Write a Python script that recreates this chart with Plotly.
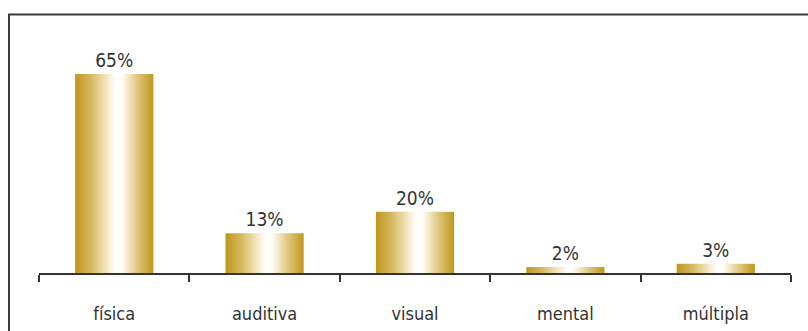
import plotly.graph_objects as go

categories = ["física", "auditiva", "visual", "mental", "múltipla"]
values = [65, 13, 20, 2, 3]
value_labels = ["65%", "13%", "20%", "2%", "3%"]

GOLD = "#BE971B"
FONT = "DejaVu Sans Condensed, sans-serif"
BAR_W = 0.52

fig = go.Figure()

# Base bar trace (invisible) for the categorical axis and value labels
fig.add_trace(go.Bar(
    x=categories, y=values, width=BAR_W,
    marker=dict(color="rgba(0,0,0,0)", line=dict(width=0)),
    text=value_labels, textposition="outside", cliponaxis=False,
    textfont=dict(family=FONT, size=19, color="#333333"),
    hoverinfo="skip", showlegend=False,
))

# Gradient-filled bars drawn on an overlaid linear axis
scale = [[0, GOLD], [0.22, "#D8BC66"], [0.42, "#F6EBCB"], [0.52, "#FFFFFF"],
         [0.6, "#FFFDF6"], [0.78, "#E2CB88"], [1, GOLD]]
for i, v in enumerate(values):
    x0, x1 = i - BAR_W / 2, i + BAR_W / 2
    fig.add_trace(go.Scatter(
        x=[x0, x1, x1, x0, x0], y=[0, 0, v, v, 0],
        xaxis="x2", yaxis="y", mode="lines", line=dict(width=0),
        fill="toself",
        fillgradient=dict(type="horizontal", colorscale=scale),
        hoverinfo="skip", showlegend=False,
    ))

fig.update_layout(
    width=808, height=331,
    margin=dict(l=39, r=17, t=28, b=58),
    paper_bgcolor="white", plot_bgcolor="white",
    bargap=0.48,
    xaxis=dict(
        type="category", range=[-0.5, 4.5], automargin=False,
        showline=True, linecolor="#333333", linewidth=2,
        ticks="outside", tickson="boundaries", ticklen=7, tickwidth=2,
        tickcolor="#333333", showgrid=False, zeroline=False,
        tickfont=dict(family=FONT, size=18, color="#333333"),
        ticklabelstandoff=23,
    ),
    xaxis2=dict(overlaying="x", range=[-0.5, 4.5], visible=False),
    yaxis=dict(range=[0, 80], visible=False, showgrid=False, zeroline=False,
               automargin=False),
    shapes=[dict(
        type="path", xref="paper", yref="paper",
        path="M -0.0399,-0.5 L -0.0399,1.055 L 1.1,1.055",
        line=dict(color="#3C3C3C", width=2),
    )],
)

fig.write_html("out.html")
